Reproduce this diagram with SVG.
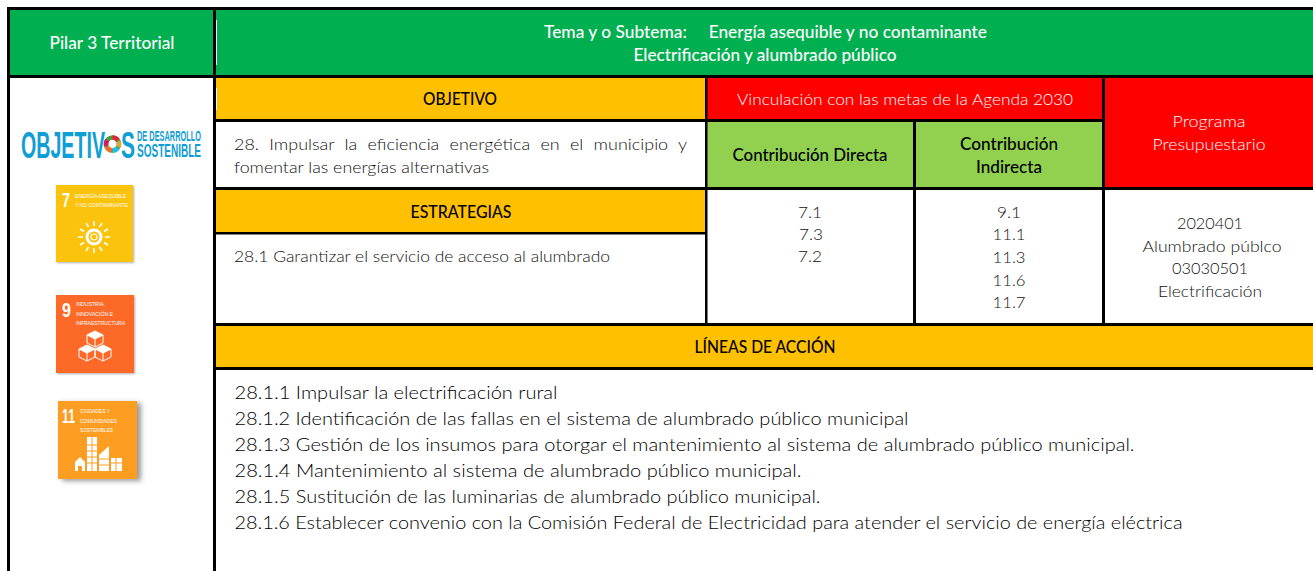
<svg xmlns="http://www.w3.org/2000/svg" width="1313" height="571" viewBox="0 0 1313 571">
<style>
text{font-family:Lato,"Open Sans","Noto Sans",sans-serif;font-size:16.5px;fill:#1a1a1a}
.l{font-weight:300;fill:#111}
.w{fill:#fff;font-weight:500}
.m{text-anchor:middle}
.h{font-weight:500;fill:#000}
.a{font-size:18px;font-weight:300;fill:#000}
.r{fill:#fff;font-weight:300}
.lg{font-family:"Liberation Sans",sans-serif;font-weight:400;fill:#fff;font-size:5px}
.n{font-family:"Liberation Sans",sans-serif;font-weight:700;fill:#fff;font-size:21px}
.o{font-family:"Liberation Sans",sans-serif;font-weight:700;fill:#0f9ed5}
.ic{fill:none;stroke:#fff;stroke-width:1}
</style>
<defs><filter id="s" x="-20%" y="-20%" width="150%" height="150%"><feDropShadow dx="1" dy="1" stdDeviation="1" flood-color="#777" flood-opacity=".6"/></filter>
<filter id="s2" x="-20%" y="-20%" width="150%" height="150%"><feDropShadow dx="4" dy="2" stdDeviation="2.5" flood-color="#555" flood-opacity=".6"/></filter></defs>
<rect width="1313" height="571" fill="#fff"/>
<g id="header">
<rect x="8" y="8" width="1305" height="68" fill="#00b050"/>
<text class="w m" x="112" y="49" textLength="125" lengthAdjust="spacingAndGlyphs">Pilar 3 Territorial</text>
<text class="w" x="544" y="38" textLength="443" lengthAdjust="spacingAndGlyphs" xml:space="preserve">Tema y o Subtema:     Energía asequible y no contaminante</text>
<text class="w m" x="765" y="61" textLength="263" lengthAdjust="spacingAndGlyphs">Electrificación y alumbrado público</text>
</g>
<g id="objetivo">
<rect x="215" y="77" width="491" height="43" fill="#ffc000"/>
<text class="h m" x="460" y="105" textLength="74" lengthAdjust="spacingAndGlyphs">OBJETIVO</text>
<text class="l" x="234" y="150" word-spacing="5" textLength="453" lengthAdjust="spacingAndGlyphs">28. Impulsar la eficiencia energética en el municipio y</text>
<text class="l" x="234" y="173" textLength="255" lengthAdjust="spacingAndGlyphs">fomentar las energías alternativas</text>
</g>
<g id="vinculacion">
<rect x="707" y="77" width="396" height="43" fill="#ff0000"/>
<text class="r m" x="905" y="105" textLength="336" lengthAdjust="spacingAndGlyphs">Vinculación con las metas de la Agenda 2030</text>
</g>
<g id="programa">
<rect x="1104" y="77" width="209" height="111" fill="#ff0000"/>
<text class="r m" x="1209" y="127" textLength="73" lengthAdjust="spacingAndGlyphs">Programa</text>
<text class="r m" x="1209" y="150" textLength="113" lengthAdjust="spacingAndGlyphs">Presupuestario</text>
<text class="l m" x="1210" y="229" textLength="66" lengthAdjust="spacingAndGlyphs">2020401</text>
<text class="l m" x="1212" y="252" textLength="139" lengthAdjust="spacingAndGlyphs">Alumbrado públco</text>
<text class="l m" x="1210" y="274" textLength="76" lengthAdjust="spacingAndGlyphs">03030501</text>
<text class="l m" x="1210" y="297" textLength="104" lengthAdjust="spacingAndGlyphs">Electrificación</text>
</g>
<g id="directa">
<rect x="707" y="122" width="207" height="66" fill="#92d050"/>
<text class="h m" x="810" y="161" textLength="155" lengthAdjust="spacingAndGlyphs">Contribución Directa</text>
<text class="l m" x="810" y="218" textLength="24" lengthAdjust="spacingAndGlyphs">7.1</text>
<text class="l m" x="811" y="240" textLength="24" lengthAdjust="spacingAndGlyphs">7.3</text>
<text class="l m" x="810" y="262" textLength="24" lengthAdjust="spacingAndGlyphs">7.2</text>
</g>
<g id="indirecta">
<rect x="915" y="122" width="188" height="66" fill="#92d050"/>
<text class="h m" x="1009" y="150" textLength="98" lengthAdjust="spacingAndGlyphs">Contribución</text>
<text class="h m" x="1009" y="173" textLength="66" lengthAdjust="spacingAndGlyphs">Indirecta</text>
<text class="l m" x="1009" y="218" textLength="24" lengthAdjust="spacingAndGlyphs">9.1</text>
<text class="l m" x="1009" y="240" textLength="33" lengthAdjust="spacingAndGlyphs">11.1</text>
<text class="l m" x="1009" y="263" textLength="33" lengthAdjust="spacingAndGlyphs">11.3</text>
<text class="l m" x="1009" y="286" textLength="33" lengthAdjust="spacingAndGlyphs">11.6</text>
<text class="l m" x="1009" y="308" textLength="33" lengthAdjust="spacingAndGlyphs">11.7</text>
</g>
<g id="estrategias">
<rect x="215" y="189" width="491" height="44" fill="#ffc000"/>
<text class="h m" x="461" y="218" textLength="101" lengthAdjust="spacingAndGlyphs">ESTRATEGIAS</text>
<text class="l" x="234" y="262" textLength="376" lengthAdjust="spacingAndGlyphs">28.1 Garantizar el servicio de acceso al alumbrado</text>
</g>
<g id="lineas">
<rect x="215" y="325" width="1098" height="43" fill="#ffc000"/>
<text class="h m" x="765" y="353" textLength="141" lengthAdjust="spacingAndGlyphs">LÍNEAS DE ACCIÓN</text>
<text class="a" x="234.500" y="399" textLength="323" lengthAdjust="spacingAndGlyphs">28.1.1 Impulsar la electrificación rural</text>
<text class="a" x="234.500" y="425" textLength="674" lengthAdjust="spacingAndGlyphs">28.1.2 Identificación de las fallas en el sistema de alumbrado público municipal</text>
<text class="a" x="234.500" y="451" textLength="900" lengthAdjust="spacingAndGlyphs">28.1.3 Gestión de los insumos para otorgar el mantenimiento al sistema de alumbrado público municipal.</text>
<text class="a" x="234.500" y="477" textLength="567" lengthAdjust="spacingAndGlyphs">28.1.4 Mantenimiento al sistema de alumbrado público municipal.</text>
<text class="a" x="234.500" y="503" textLength="586" lengthAdjust="spacingAndGlyphs">28.1.5 Sustitución de las luminarias de alumbrado público municipal.</text>
<text class="a" x="234.500" y="529" textLength="948" lengthAdjust="spacingAndGlyphs">28.1.6 Establecer convenio con la Comisión Federal de Electricidad para atender el servicio de energía eléctrica</text>
</g>
<g id="grid" fill="#000">
<rect x="7" y="7" width="1306" height="3"/>
<rect x="7" y="75" width="1306" height="3"/>
<rect x="7" y="7" width="3" height="564"/>
<rect x="213" y="7" width="3" height="564"/>
<rect x="215" y="119" width="888" height="3"/>
<rect x="215" y="187" width="1098" height="3"/>
<rect x="215" y="232" width="491" height="2.500"/>
<rect x="215" y="323" width="1098" height="3"/>
<rect x="215" y="367" width="1098" height="3"/>
<rect x="705" y="78" width="2.500" height="246"/>
<rect x="913" y="122" width="3" height="202"/>
<rect x="1102" y="78" width="3" height="246"/>
</g>
<g id="ods-logo">
<text class="o" x="21" y="158" style="font-size:37px" textLength="84" lengthAdjust="spacingAndGlyphs">OBJETIV</text>
<g fill="none" stroke-width="4.500" transform="rotate(-90 112.500 144)">
<circle cx="112.500" cy="144" r="6.500" stroke="#4c9f38"/>
<circle cx="112.500" cy="144" r="6.500" stroke="#e5243b" stroke-dasharray="6 35"/>
<circle cx="112.500" cy="144" r="6.500" stroke="#dda63a" stroke-dasharray="6 35" stroke-dashoffset="-7"/>
<circle cx="112.500" cy="144" r="6.500" stroke="#26bde2" stroke-dasharray="6 35" stroke-dashoffset="-14"/>
<circle cx="112.500" cy="144" r="6.500" stroke="#fd6925" stroke-dasharray="6 35" stroke-dashoffset="-21"/>
<circle cx="112.500" cy="144" r="6.500" stroke="#dd1367" stroke-dasharray="6 35" stroke-dashoffset="-28"/>
</g>
<text class="o" x="121" y="158" style="font-size:37px" textLength="14" lengthAdjust="spacingAndGlyphs">S</text>
<text class="o" x="137" y="141" style="font-size:14px" textLength="64" lengthAdjust="spacingAndGlyphs">DE DESARROLLO</text>
<text class="o" x="137" y="157" style="font-size:18px" textLength="64" lengthAdjust="spacingAndGlyphs">SOSTENIBLE</text>
</g>
<g id="ods-7">
<rect x="56" y="185" width="77" height="77" fill="#fcc30b" filter="url(#s)"/>
<text class="n" x="62" y="207" textLength="8" lengthAdjust="spacingAndGlyphs">7</text>
<text class="lg" x="75" y="197.500" textLength="51" lengthAdjust="spacingAndGlyphs">ENERGÍA ASEQUIBLE</text>
<text class="lg" x="75" y="206.500" textLength="53" lengthAdjust="spacingAndGlyphs">Y NO CONTAMINANTE</text>
<circle cx="94" cy="237" r="7" fill="none" stroke="#fff" stroke-width="3"/>
<circle cx="94" cy="237" r="3" fill="none" stroke="#fff" stroke-width="1.200"/>
<path stroke="#fff" stroke-width="1.500" d="M94 221v5M94 248v5M78 237h5M105 237h5M86 223l2.500 4M99.500 247l2.500 4M86 251l2.500-4M99.500 227l2.500-4M80 229l4 2.500M104 242.500l4 2.500M80 245l4-2.500M104 231.500l4-2.500"/>
</g>
<g id="ods-9">
<rect x="56" y="295" width="78" height="78" fill="#fd6925" filter="url(#s)"/>
<text class="n" x="62" y="317" textLength="9" lengthAdjust="spacingAndGlyphs">9</text>
<text class="lg" x="76" y="306" textLength="29" lengthAdjust="spacingAndGlyphs">INDUSTRIA,</text>
<text class="lg" x="76" y="315.500" textLength="37" lengthAdjust="spacingAndGlyphs">INNOVACIÓN E</text>
<text class="lg" x="76" y="325" textLength="49" lengthAdjust="spacingAndGlyphs">INFRAESTRUCTURA</text>
<path class="ic" d="M95 331l8 4v8l-8 4-8-4v-8zM87 335l8 4 8-4M95 339v8M87 345l8 4v8l-8 4-8-4v-8zM79 349l8 4 8-4M87 353v8M103 345l8 4v8l-8 4-8-4v-8zM95 349l8 4 8-4M103 353v8"/>
<path fill="#fff" d="M95 331l8 4-8 4-8-4zM87 345l8 4-8 4-8-4zM103 345l8 4-8 4-8-4z"/>
</g>
<g id="ods-11">
<rect x="58" y="401" width="79" height="78" fill="#fd9d24" filter="url(#s2)"/>
<text class="n" x="62" y="423" textLength="13" lengthAdjust="spacingAndGlyphs">11</text>
<text class="lg" x="80" y="413" textLength="30" lengthAdjust="spacingAndGlyphs">CIUDADES Y</text>
<text class="lg" x="80" y="422.500" textLength="37" lengthAdjust="spacingAndGlyphs">COMUNIDADES</text>
<text class="lg" x="80" y="432" textLength="33" lengthAdjust="spacingAndGlyphs">SOSTENIBLES</text>
<g fill="#fff"><path d="M75 471v-9l5-5 5 5v9h-3v-5h-4v5z"/><rect x="87" y="437" width="10" height="34"/><path d="M99 471v-16l10-9v25z"/><rect x="111" y="458" width="11" height="13"/></g>
<path stroke="#fd9d24" stroke-width="1" d="M87 445h10M87 451h10M87 457h10M87 463h10M92 437v34M99 459h10M99 465h10M111 463h11M116 458v13"/>
</g>
<g id="slivers" fill="#fff"><rect x="216" y="20" width="1" height="45"/><rect x="216" y="88" width="1" height="22"/></g>
</svg>
